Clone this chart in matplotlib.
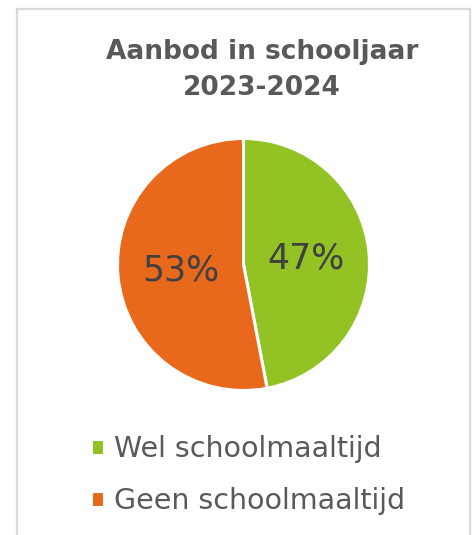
import matplotlib.pyplot as plt
from matplotlib.patches import Rectangle

# data
labels = ['Wel schoolmaaltijd', 'Geen schoolmaaltijd']
shares = [47, 53]
colors = ['#93C225', '#E8691B']
title = 'Aanbod in schooljaar\n2023-2024'

W, H = 474, 535
fig = plt.figure(figsize=(W / 100, H / 100), dpi=100)
fig.patch.set_facecolor('white')
plt.rcParams['font.family'] = ['DejaVu Sans']

# light grey frame of the chart area (bottom runs off the image)
fig.add_artist(Rectangle((17 / W, -0.05), (470 - 17) / W, 1.05 - 9 / H,
                         transform=fig.transFigure, fill=False,
                         edgecolor='#D9D9D9', linewidth=1.6))

fig.text(262 / W, 1 - 70 / H, title, ha='center', va='center',
         fontsize=19, fontweight='bold', color='#595959', linespacing=1.5)

# pie: centre (243.5, 264.5) px, radius 126 px
cx, cy, r = 243.5, 264.5, 126
ax = fig.add_axes([(cx - r) / W, (H - cy - r) / H, 2 * r / W, 2 * r / H])
wedges, texts, autotexts = ax.pie(
    shares, colors=colors, startangle=90, counterclock=False,
    autopct='%1.0f%%', pctdistance=0.5, radius=1,
    wedgeprops=dict(edgecolor='white', linewidth=2.2),
    textprops=dict(fontsize=25, color='#404040'))
ax.set_xlim(-1, 1)
ax.set_ylim(-1, 1)
ax.set_aspect('equal')
ax.axis('off')

fig.legend(wedges, labels, loc='upper left',
           bbox_to_anchor=(91 / W, 1 - 435 / H), frameon=False,
           fontsize=20.5, labelcolor='#595959', handlelength=0.45,
           handleheight=0.45, handletextpad=0.35, labelspacing=0.85,
           borderpad=0, borderaxespad=0)

fig.savefig('out.png', dpi=100)
